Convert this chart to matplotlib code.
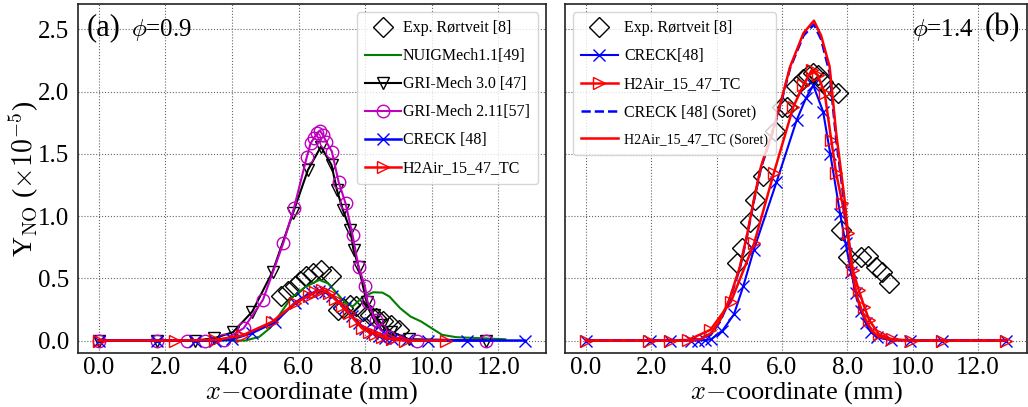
import matplotlib
matplotlib.use("Agg")
import matplotlib.pyplot as plt

plt.rcParams["font.family"] = ["Liberation Serif", "DejaVu Serif"]
plt.rcParams["mathtext.fontset"] = "cm"

# ---- panel (a): phi = 0.9 ----
exp_a_x = [5.48, 5.68, 5.88, 6.03, 6.23, 6.43, 6.68, 6.98, 7.18, 7.33, 7.53, 7.73, 7.93, 8.13, 8.33, 8.53, 8.78, 9.03]
exp_a_y = [0.355, 0.395, 0.436, 0.476, 0.516, 0.543, 0.569, 0.516, 0.249, 0.262, 0.289, 0.275, 0.235, 0.208, 0.182, 0.155, 0.128, 0.088]

nuig_x = [0, 2.0, 4.0, 4.4, 4.82, 5.14, 5.46, 5.77, 6.2, 6.62, 6.88, 7.15, 7.41, 7.63, 7.94, 8.24, 8.52, 8.73, 9.05, 9.36, 9.68, 9.99, 10.31, 10.73, 11.26, 12.21]
nuig_y = [0, 0, 0, 0.0, 0.03, 0.1, 0.22, 0.34, 0.43, 0.487, 0.46, 0.38, 0.30, 0.275, 0.353, 0.388, 0.385, 0.353, 0.26, 0.193, 0.153, 0.10, 0.046, 0.027, 0.021, 0.01]

gri30_x = [0, 1.76, 2.9, 3.47, 4.03, 4.61, 5.22, 5.83, 6.28, 6.67, 6.99, 7.15, 7.33, 7.55, 7.65, 7.8, 8.04, 8.25, 8.52, 8.78, 9.31, 11.63]
gri30_y = [0, 0, 0, 0.019, 0.067, 0.233, 0.554, 1.022, 1.37, 1.558, 1.41, 1.21, 1.05, 0.889, 0.728, 0.594, 0.313, 0.206, 0.126, 0.072, 0.011, 0]

gri211_x = [0, 1.76, 2.64, 3.19, 3.77, 4.35, 4.93, 5.54, 5.86, 6.25, 6.36, 6.46, 6.55, 6.64, 6.73, 6.83, 7.0, 7.2, 7.41, 7.62, 7.8, 7.99, 8.07, 8.31, 8.46, 8.73, 9.57, 11.63]
gri211_y = [0, 0, 0, 0, 0.005, 0.099, 0.327, 0.782, 1.063, 1.478, 1.585, 1.625, 1.666, 1.686, 1.652, 1.598, 1.518, 1.277, 1.103, 0.848, 0.594, 0.439, 0.313, 0.166, 0.086, 0.032, 0, 0]

creck_a_x = [0, 1.76, 2.9, 3.5, 4.0, 4.6, 5.3, 5.88, 6.1, 6.4, 6.6, 6.8, 7.0, 7.2, 7.4, 7.6, 7.8, 8.0, 8.2, 8.4, 8.6, 8.8, 9.26, 9.9, 11.05, 12.79]
creck_a_y = [0, 0, 0, 0, 0.01, 0.06, 0.15, 0.30, 0.34, 0.38, 0.40, 0.39, 0.36, 0.31, 0.26, 0.2, 0.14, 0.09, 0.06, 0.04, 0.02, 0.01, 0.002, 0, 0, 0]

h2air_a_x = [0, 2.29, 3.5, 4.3, 5.2, 5.9, 6.3, 6.5, 6.7, 6.9, 7.1, 7.3, 7.5, 7.7, 7.9, 8.1, 8.3, 8.5, 8.8, 9.2, 10.42]
h2air_a_y = [0, 0, 0.005, 0.04, 0.15, 0.3, 0.36, 0.39, 0.41, 0.38, 0.33, 0.28, 0.22, 0.16, 0.1, 0.07, 0.05, 0.03, 0.01, 0.0, 0]

# ---- panel (b): phi = 1.4 ----
exp_b_x = [4.61, 4.79, 5.01, 5.19, 5.43, 5.80, 6.00, 6.15, 6.43, 6.66, 6.81, 6.96, 7.11, 7.26, 7.46, 7.71, 7.81, 8.02, 8.42, 8.62, 8.87, 9.07, 9.28]
exp_b_y = [0.621, 0.741, 0.956, 1.13, 1.32, 1.68, 1.88, 1.88, 2.045, 2.10, 2.13, 2.15, 2.13, 2.08, 2.01, 1.99, 0.889, 0.675, 0.675, 0.68, 0.594, 0.554, 0.46]

creck_b_x = [0, 1.96, 2.57, 3.23, 3.43, 3.63, 3.83, 4.18, 4.53, 4.82, 5.14, 5.83, 6.45, 6.74, 6.96, 7.26, 7.48, 7.78, 7.95, 8.12, 8.27, 8.42, 8.57, 8.72, 8.92, 9.33, 9.93, 10.91, 12.86]
creck_b_y = [0, 0, 0, 0, 0, 0.003, 0.01, 0.08, 0.21, 0.44, 0.73, 1.27, 1.77, 1.95, 2.05, 1.84, 1.50, 1.02, 0.78, 0.55, 0.38, 0.24, 0.14, 0.07, 0.025, 0.005, 0, 0, 0]

h2air_b_x = [0, 1.92, 2.57, 3.13, 3.81, 4.44, 5.15, 5.75, 6.35, 6.66, 6.91, 7.1, 7.31, 7.51, 7.66, 7.85, 8.02, 8.17, 8.35, 8.52, 8.67, 8.97, 9.38, 9.96, 10.91, 12.86]
h2air_b_y = [0, 0, 0, 0.005, 0.086, 0.313, 0.782, 1.344, 1.879, 2.053, 2.173, 2.13, 1.986, 1.611, 1.344, 1.103, 0.862, 0.567, 0.407, 0.273, 0.166, 0.05, 0.01, 0, 0, 0]

soret_x = [0, 2.0, 3.0, 3.5, 3.83, 4.1, 4.39, 4.71, 4.94, 5.14, 5.36, 5.7, 6.0, 6.25, 6.66, 6.98, 7.2, 7.46, 7.66, 7.92, 8.12, 8.3, 8.52, 8.75, 8.97, 9.4, 10.0, 12.86]
creck_soret_y = [0, 0, 0, 0.01, 0.05, 0.15, 0.32, 0.58, 0.85, 1.12, 1.39, 1.66, 1.94, 2.19, 2.45, 2.54, 2.42, 2.15, 1.62, 1.08, 0.57, 0.33, 0.17, 0.07, 0.025, 0.004, 0, 0]
h2air_soret_y = [0, 0, 0, 0.01, 0.06, 0.16, 0.33, 0.59, 0.86, 1.13, 1.40, 1.67, 1.95, 2.2, 2.47, 2.57, 2.45, 2.2, 1.67, 1.13, 0.6, 0.35, 0.19, 0.08, 0.03, 0.005, 0, 0]

x_ticks = [0, 2, 4, 6, 8, 10, 12]
y_ticks = [0.0, 0.5, 1.0, 1.5, 2.0, 2.5]

MS = 9
open_mk = dict(markerfacecolor="none", markersize=MS, markeredgewidth=1.0)
diam_mk = dict(markerfacecolor="none", markersize=10, markeredgewidth=1.0)


def style_axes(ax):
    ax.set_xticks(x_ticks)
    ax.set_xticklabels([f"{t:.1f}" for t in x_ticks])
    ax.set_yticks(y_ticks)
    ax.set_ylim(-0.1, 2.7)
    ax.grid(True, linestyle=":", color="#666666", linewidth=0.8)
    ax.set_axisbelow(True)
    ax.tick_params(length=0, labelsize=18, pad=6)
    ax.tick_params(axis="x", pad=3)
    for s in ax.spines.values():
        s.set_linewidth(1.2)
        s.set_color("#222222")
    ax.set_xlabel(r"$x{-}$coordinate (mm)", fontsize=19, labelpad=0)


fig = plt.figure(figsize=(10.28, 4.07), dpi=100)
ax1 = fig.add_axes([0.0754, 0.1327, 0.4557, 0.8563])
ax2 = fig.add_axes([0.5496, 0.1327, 0.4494, 0.8563], sharey=ax1)

# (a)
ax1.plot(exp_a_x, exp_a_y, "D", color="black", linestyle="none", label="Exp. Rørtveit [8]", **diam_mk)
ax1.plot(nuig_x, nuig_y, "-", color="green", lw=1.5, label="NUIGMech1.1[49]")
ax1.plot(gri30_x, gri30_y, "-v", color="black", lw=1.5, label="GRI-Mech 3.0 [47]", **open_mk)
ax1.plot(gri211_x, gri211_y, "-o", color="m", lw=1.5, label="GRI-Mech 2.11[57]", **open_mk)
ax1.plot(creck_a_x, creck_a_y, "-x", color="blue", lw=1.8, label="CRECK [48]", markersize=MS, markeredgewidth=1.0)
ax1.plot(h2air_a_x, h2air_a_y, "->", color="red", lw=1.8, label="H2Air_15_47_TC", **open_mk)
style_axes(ax1)
ax1.set_ylabel(r"Y$_{\mathrm{NO}}$ ($\times 10^{-5}$)", fontsize=20, labelpad=-2)
ax1.text(0.02, 0.975, "(a)", transform=ax1.transAxes, fontsize=22, va="top", ha="left")
ax1.text(0.115, 0.965, r"$\phi$=0.9", transform=ax1.transAxes, fontsize=18, va="top", ha="left")
leg1 = ax1.legend(loc="upper right", fontsize=11.5, handlelength=2.3, handletextpad=0.1,
                  labelspacing=0.75, borderpad=0.5, framealpha=0.8, fancybox=True)

# (b)
ax2.plot(exp_b_x, exp_b_y, "D", color="black", linestyle="none", label="Exp. Rørtveit [8]", **diam_mk)
ax2.plot(creck_b_x, creck_b_y, "-x", color="blue", lw=1.5, label="CRECK[48]", markersize=MS, markeredgewidth=1.0)
ax2.plot(h2air_b_x, h2air_b_y, "->", color="red", lw=1.8, label="H2Air_15_47_TC", **open_mk)
ax2.plot(soret_x, creck_soret_y, "--", color="blue", lw=1.8, label="CRECK [48] (Soret)")
ax2.plot(soret_x, h2air_soret_y, "-", color="red", lw=1.8, label="H2Air_15_47_TC (Soret)")
style_axes(ax2)
ax2.tick_params(labelleft=False)
ax2.text(0.985, 0.975, "(b)", transform=ax2.transAxes, fontsize=22, va="top", ha="right")
ax2.text(0.885, 0.965, r"$\phi$=1.4", transform=ax2.transAxes, fontsize=18, va="top", ha="right")
leg2 = ax2.legend(loc="upper left", fontsize=11.5, handlelength=2.3, handletextpad=0.4,
                  labelspacing=0.75, borderpad=0.5, framealpha=0.8, fancybox=True)
leg2.get_texts()[-1].set_fontsize(10)

fig.savefig("out.png", dpi=100)
